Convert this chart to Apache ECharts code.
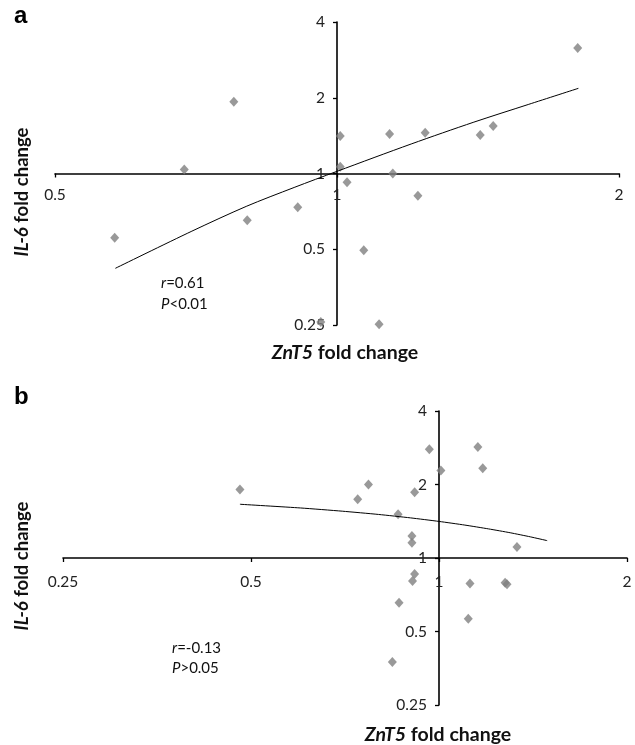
<!DOCTYPE html>
<html><head><meta charset="utf-8">
<script src="https://cdn.jsdelivr.net/npm/echarts@6/dist/echarts.min.js"></script>
<style>html,body{margin:0;padding:0;background:#fff}#c{width:635px;height:745px}</style>
</head><body><div id="c"></div>
<script>
// ---- data ----
const xTicksA = [0.5, 1, 2];
const xTicksB = [0.25, 0.5, 1, 2];
const yTicks = [0.25, 0.5, 1, 2, 4];

// panel a: [ZnT5 fold change, IL-6 fold change]
const pointsA = [
  [1.807, 3.15], [0.776, 1.93], [1.008, 1.41], [1.138, 1.435], [1.242, 1.453],
  [1.422, 1.422], [1.468, 1.544], [0.687, 1.037], [1.008, 1.063], [1.147, 1.0],
  [1.025, 0.922], [1.220, 0.816], [0.908, 0.734], [0.802, 0.652], [0.579, 0.556],
  [1.068, 0.495], [0.961, 0.257], [1.109, 0.252]
];
// trend line readings, panel a
const trendA = [
  [0.58, 0.42], [0.7, 0.59], [0.8, 0.74], [0.9, 0.88], [1.0, 1.02],
  [1.2, 1.31], [1.4, 1.60], [1.6, 1.88], [1.81, 2.18]
];
// panel b
const pointsB = [
  [0.480, 1.91], [0.741, 1.74], [0.771, 2.00], [0.914, 1.86], [0.965, 2.79],
  [1.007, 2.28], [1.154, 2.85], [1.175, 2.33], [0.860, 1.51], [0.905, 1.23],
  [0.905, 1.155], [1.333, 1.11], [0.914, 0.86], [0.907, 0.805], [1.121, 0.787],
  [1.276, 0.792], [1.285, 0.78], [0.863, 0.656], [1.114, 0.564], [0.842, 0.375]
];
const trendB = [
  [0.48, 1.66], [0.6, 1.603], [0.7, 1.555], [0.8, 1.508], [0.9, 1.46],
  [1.0, 1.412], [1.1, 1.364], [1.2, 1.316], [1.3, 1.269], [1.4, 1.221], [1.49, 1.178]
];
const statsA = [['r', '=0.61'], ['P', '<0.01']];
const statsB = [['r', '=-0.13'], ['P', '>0.05']];
const xName = ['ZnT5', ' fold change'];
const yName = ['IL-6', ' fold change'];
const panelLetters = ['a', 'b'];

// ---- styling ----
const FONT = 'Lato';
const lineCol = '#000';

function xAxisOf(grid, ticks, offset) {
  return {
    gridIndex: grid, type: 'log', logBase: 2,
    min: ticks[0], max: ticks[ticks.length - 1],
    position: 'bottom', offset: offset,
    axisLine: { show: true, onZero: false, lineStyle: { color: lineCol, width: 1.6 } },
    axisTick: { show: true, length: 4, lineStyle: { color: lineCol, width: 1.3 } },
    splitLine: { show: false }, minorTick: { show: false },
    axisLabel: { fontFamily: FONT, fontSize: 15.5, color: '#222', margin: grid === 0 ? 13 : 16,
      showMinLabel: true, showMaxLabel: true,
      formatter: v => String(+(+v).toPrecision(4)) }
  };
}
function yAxisOf(grid, ticks, offset) {
  return {
    gridIndex: grid, type: 'log', logBase: 2,
    min: ticks[0], max: ticks[ticks.length - 1],
    position: 'left', offset: offset,
    axisLine: { show: true, onZero: false, lineStyle: { color: lineCol, width: 1.6 } },
    axisTick: { show: true, length: 4, lineStyle: { color: lineCol, width: 1.3 } },
    splitLine: { show: false }, minorTick: { show: false },
    axisLabel: { fontFamily: FONT, fontSize: 15.5, color: '#222', margin: 12,
      showMinLabel: true, showMaxLabel: true,
      formatter: v => String(+(+v).toPrecision(4)) }
  };
}

function richTok(size, bold) {
  const w = bold ? 'bold ' : '';
  return {
    i: { font: 'italic ' + w + size + 'px ' + FONT, fill: '#111' },
    n: { font: w + size + 'px ' + FONT, fill: '#111' }
  };
}

function buildOption(off) {
  return {
    animation: false,
    backgroundColor: '#fff',
    grid: [
      { left: 55, right: 16, top: 22, height: 303, containLabel: false, outerBoundsMode: 'none' },
      { left: 63, right: 8, top: 411, height: 294, containLabel: false, outerBoundsMode: 'none' }
    ],
    xAxis: [xAxisOf(0, xTicksA, off.xa), xAxisOf(1, xTicksB, off.xb)],
    yAxis: [yAxisOf(0, yTicks, off.ya), yAxisOf(1, yTicks, off.yb)],
    series: [
      { type: 'scatter', xAxisIndex: 0, yAxisIndex: 0, data: pointsA, symbol: 'diamond',
        symbolSize: [9, 10], itemStyle: { color: '#7f7f7f' }, clip: false, z: 3 },
      { type: 'line', xAxisIndex: 0, yAxisIndex: 0, data: trendA, smooth: 0.3, showSymbol: false,
        lineStyle: { color: '#000', width: 1 }, z: 4 },
      { type: 'scatter', xAxisIndex: 1, yAxisIndex: 1, data: pointsB, symbol: 'diamond',
        symbolSize: [9, 10], itemStyle: { color: '#7f7f7f' }, clip: false, z: 3 },
      { type: 'line', xAxisIndex: 1, yAxisIndex: 1, data: trendB, smooth: 0.2, showSymbol: false,
        lineStyle: { color: '#000', width: 1 }, z: 4 }
    ],
    graphic: [
      { type: 'text', left: 14, top: 4, style: { text: panelLetters[0], font: 'bold 24px "Liberation Sans"', fill: '#000' } },
      { type: 'text', left: 14, top: 385, style: { text: panelLetters[1], font: 'bold 24px "Liberation Sans"', fill: '#000' } },
      { type: 'text', x: 345, y: 353, style: { text: '{i|' + xName[0] + '}{n|' + xName[1] + '}', rich: richTok(19.5, true), align: 'center', verticalAlign: 'middle' } },
      { type: 'text', x: 438, y: 735, style: { text: '{i|' + xName[0] + '}{n|' + xName[1] + '}', rich: richTok(19.5, true), align: 'center', verticalAlign: 'middle' } },
      { type: 'text', x: 22, y: 192, rotation: Math.PI / 2, style: { text: '{i|' + yName[0] + '}{n|' + yName[1] + '}', rich: richTok(18.5, true), align: 'center', verticalAlign: 'middle' } },
      { type: 'text', x: 22, y: 566, rotation: Math.PI / 2, style: { text: '{i|' + yName[0] + '}{n|' + yName[1] + '}', rich: richTok(18.5, true), align: 'center', verticalAlign: 'middle' } },
      { type: 'text', x: 161, y: 273, style: { text: statsA.map(s => '{i|' + s[0] + '}{n|' + s[1] + '}').join('\n'), rich: richTok(15, false), lineHeight: 20.5, align: 'left', verticalAlign: 'top' } },
      { type: 'text', x: 172, y: 638, style: { text: statsB.map(s => '{i|' + s[0] + '}{n|' + s[1] + '}').join('\n'), rich: richTok(15, false), lineHeight: 20, align: 'left', verticalAlign: 'top' } }
    ]
  };
}

const chart = echarts.init(document.getElementById('c'), null, { renderer: 'canvas' });
chart.setOption(buildOption({ xa: 0, xb: 0, ya: 0, yb: 0 }));
// place the axes so they cross at 1, using the library's own scales
function crossOffsets(g, xmin, ymin) {
  const p0 = chart.convertToPixel({ gridIndex: g }, [xmin, ymin]);
  const p1 = chart.convertToPixel({ gridIndex: g }, [1, 1]);
  return { x: -(p0[1] - p1[1]), y: -(p1[0] - p0[0]) };
}
const oa = crossOffsets(0, xTicksA[0], yTicks[0]);
const ob = crossOffsets(1, xTicksB[0], yTicks[0]);
chart.setOption(buildOption({ xa: oa.x, xb: ob.x, ya: oa.y, yb: ob.y }));
</script></body></html>
